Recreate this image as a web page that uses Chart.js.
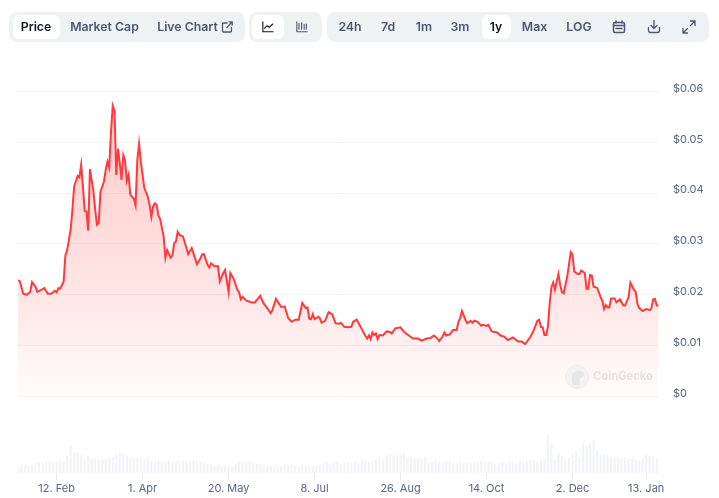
<!DOCTYPE html>
<html>
<head>
<meta charset="utf-8">
<title>Price chart</title>
<script src="https://cdn.jsdelivr.net/npm/chart.js@4"></script>
<style>
    html, body { margin: 0; padding: 0; background: #fff; }
    #wrap { position: relative; width: 719px; height: 498px; overflow: hidden; font-family: Inter, sans-serif; }
    canvas { position: absolute; left: 0; top: 0; }
    .group { position: absolute; top: 12px; height: 30px; background: #eff2f5; border-radius: 8px; }
    .active { position: absolute; top: 15px; height: 24px; background: #fff; border-radius: 6px; }
    .btn { position: absolute; top: 12px; height: 30px; line-height: 30px; transform: translateX(-50%); font-size: 12.3px; font-weight: 600; color: #4b5870; white-space: nowrap; }
    .btn.on { color: #0d1421; }
    .icon { position: absolute; fill: none; stroke: #4b5870; stroke-width: 1.3; stroke-linecap: round; stroke-linejoin: round; }
    #mark { position: absolute; left: 593px; top: 369px; font-size: 11.2px; font-weight: 700; color: #e2e2e2; }
</style>
</head>
<body>
<div id="wrap">
    <canvas id="priceChart" width="719" height="498"></canvas>

    <div class="group" style="left:9px;width:236px"></div>
    <div class="group" style="left:249px;width:73px"></div>
    <div class="group" style="left:327px;width:382px"></div>
    <div class="active" style="left:13px;width:47px"></div>
    <div class="active" style="left:252px;width:32px"></div>
    <div class="active" style="left:482px;width:29px"></div>

    <span class="btn on" style="left:36px">Price</span>
    <span class="btn" style="left:104.5px">Market Cap</span>
    <span class="btn" style="left:187.5px">Live Chart</span>
    <span class="btn" style="left:350px">24h</span>
    <span class="btn" style="left:388px">7d</span>
    <span class="btn" style="left:424px">1m</span>
    <span class="btn" style="left:460px">3m</span>
    <span class="btn on" style="left:496px">1y</span>
    <span class="btn" style="left:534.5px">Max</span>
    <span class="btn" style="left:579px">LOG</span>

    <svg class="icon" style="left:221px;top:20px" width="13" height="14" viewBox="0 0 13 14">
        <path d="M10.5 7.5v3.5a1 1 0 0 1-1 1H2.5a1 1 0 0 1-1-1V4a1 1 0 0 1 1-1H6M8 1.8h3.2V5M11 2L5.8 7.6"/>
    </svg>
    <svg class="icon" style="left:262px;top:21px;stroke:#0d1421" width="12" height="12" viewBox="0 0 14 14">
        <path d="M1 1v11.5h12M3 8.5l3-3 2.5 2 4-4"/>
    </svg>
    <svg class="icon" style="left:296px;top:21px" width="12" height="12" viewBox="0 0 14 14">
        <path d="M1 1v11.5h12M3.5 3v6.5M6.5 2v7.5M9.5 4v5.5M12 3.5v6"/>
    </svg>
    <svg class="icon" style="left:612px;top:20px;stroke-width:1.5" width="14" height="14" viewBox="0 0 14 14">
        <rect x="1.5" y="2.5" width="11" height="10" rx="1.5"/>
        <path d="M1.5 5.5h11M4 1v2M10 1v2M4 8.5h6" />
    </svg>
    <svg class="icon" style="left:647px;top:19px" width="14" height="15" viewBox="0 0 14 15">
        <path d="M7 1.5v7.5M4 6.5L7 9.5l3-3M1.5 8.5v3a2 2 0 0 0 2 2h7a2 2 0 0 0 2-2v-3"/>
    </svg>
    <svg class="icon" style="left:682px;top:20px" width="14" height="14" viewBox="0 0 14 14">
        <path d="M8.5 1h4.5v4.5M13 1L8.5 5.5M5.5 13H1V8.5M1 13l4.5-4.5"/>
    </svg>

    <svg style="position:absolute;left:565px;top:365px" width="24" height="24" viewBox="0 0 24 24">
        <circle cx="12" cy="12" r="11.5" fill="#f3f3f3" stroke="#ebebeb"/>
        <path d="M8 20c-2-5-2-12 3-14 4-1 8 1 8 4 0 2-3 2-4 3-1 2 0 5 0 7z" fill="#e6e6e6"/>
    </svg>
    <div id="mark">CoinGecko</div>
</div>

<script>
const priceDays = [
    0, 1, 3, 5, 7, 8, 10, 11, 14, 15, 17, 19, 21, 22, 23, 24, 26, 27, 28, 30,
    31, 32, 34, 35, 36, 37, 38, 39, 40, 41, 43, 44, 45, 46, 47, 49, 50, 51, 52, 53,
    54, 55, 56, 57, 58, 59, 60, 61, 62, 63, 64, 66, 67, 68, 69, 70, 72, 74, 75, 76,
    77, 78, 79, 80, 81, 83, 84, 85, 87, 88, 89, 90, 91, 92, 94, 96, 97, 99, 102, 104,
    105, 106, 108, 109, 110, 112, 114, 115, 117, 118, 120, 121, 123, 125, 126, 127, 128, 130, 133, 135,
    138, 140, 142, 144, 145, 147, 150, 152, 154, 156, 158, 160, 162, 164, 165, 166, 167, 168, 169, 171,
    172, 173, 175, 177, 179, 181, 183, 184, 186, 188, 190, 191, 193, 194, 196, 198, 199, 200, 201, 202,
    203, 204, 205, 206, 208, 210, 212, 213, 215, 218, 219, 221, 222, 225, 228, 230, 233, 235, 237, 239,
    240, 242, 243, 244, 246, 248, 250, 251, 252, 253, 255, 256, 258, 259, 260, 262, 264, 265, 267, 268,
    270, 273, 275, 277, 279, 282, 285, 287, 289, 292, 294, 296, 297, 298, 299, 300, 301, 302, 303, 304,
    305, 306, 307, 308, 309, 310, 311, 313, 315, 316, 317, 319, 320, 321, 323, 324, 325, 326, 327, 328,
    330, 332, 333, 334, 335, 336, 337, 338, 340, 341, 343, 345, 346, 348, 349, 351, 352, 353, 354, 356,
    358, 360, 361, 362, 363, 364, 365
];

const priceValues = [
    .0229, .0227, .0202, .0200, .0206, .0225, .0216, .0206, .0211, .0213, .0202, .0202, .0208, .0205, .0213, .0212, .0226, .0277, .0288, .0328,
    .0367, .0413, .0434, .0431, .0456, .0413, .0365, .0364, .0326, .0447, .0403, .0367, .0338, .0341, .0403, .0423, .0446, .0462, .0450, .0521,
    .0572, .0562, .0436, .0487, .0459, .0426, .0475, .0465, .0424, .0436, .0397, .0389, .0376, .0465, .0497, .0462, .0410, .0393, .0377, .0353,
    .0374, .0380, .0377, .0356, .0349, .0315, .0273, .0288, .0273, .0277, .0302, .0305, .0324, .0318, .0315, .0292, .0280, .0292, .0260, .0272,
    .0280, .0280, .0259, .0254, .0262, .0256, .0256, .0226, .0243, .0249, .0206, .0243, .0231, .0210, .0205, .0191, .0196, .0189, .0185, .0185,
    .0198, .0183, .0174, .0164, .0170, .0192, .0176, .0177, .0154, .0147, .0151, .0151, .0184, .0174, .0175, .0153, .0152, .0162, .0152, .0157,
    .0154, .0145, .0149, .0166, .0162, .0144, .0143, .0145, .0137, .0136, .0137, .0147, .0151, .0145, .0132, .0119, .0114, .0120, .0113, .0126,
    .0121, .0124, .0113, .0121, .0120, .0128, .0127, .0124, .0134, .0136, .0131, .0124, .0122, .0114, .0114, .0110, .0114, .0115, .0120, .0114,
    .0109, .0118, .0126, .0120, .0122, .0131, .0131, .0147, .0154, .0168, .0151, .0144, .0149, .0145, .0149, .0147, .0139, .0141, .0139, .0141,
    .0128, .0126, .0120, .0118, .0111, .0116, .0108, .0108, .0103, .0117, .0131, .0149, .0151, .0137, .0136, .0121, .0121, .0137, .0183, .0215,
    .0224, .0210, .0226, .0241, .0219, .0205, .0203, .0236, .0284, .0279, .0246, .0241, .0241, .0248, .0243, .0212, .0212, .0239, .0238, .0216,
    .0214, .0196, .0188, .0172, .0180, .0175, .0175, .0193, .0193, .0185, .0191, .0179, .0179, .0196, .0224, .0210, .0206, .0183, .0174, .0168,
    .0172, .0170, .0174, .0191, .0192, .0179, .0179
];

// one bar every two days, volume in $M
const volumeValues = [
    7, 8, 7, 7, 8, 9, 10, 11, 12, 11, 10, 11, 12, 11, 17, 27, 20, 20, 18, 14,
    16, 13, 14, 13, 13, 14, 15, 16, 19, 20, 19, 17, 16, 16, 15, 15, 14, 16, 12, 11,
    12, 11, 11, 12, 11, 11, 12, 12, 12, 11, 13, 12, 11, 10, 9, 8, 7, 8, 7, 8,
    7, 7, 9, 11, 12, 11, 12, 10, 9, 8, 8, 7, 7, 8, 8, 7, 8, 8, 8, 7,
    7, 8, 7, 7, 6, 7, 8, 9, 10, 8, 10, 11, 9, 10, 11, 11, 11, 10, 12, 12,
    11, 11, 13, 14, 13, 17, 18, 18, 17, 19, 20, 16, 15, 14, 15, 15, 16, 10, 11, 12,
    11, 10, 12, 12, 11, 10, 12, 11, 10, 9, 10, 12, 12, 11, 11, 10, 9, 8, 10, 10,
    11, 11, 10, 12, 11, 12, 13, 12, 11, 12, 14, 38, 30, 13, 20, 17, 14, 15, 19, 22,
    16, 30, 27, 29, 33, 22, 19, 19, 18, 16, 16, 15, 14, 16, 15, 14, 13, 12, 14, 19,
    17, 16, 15
];

const yTickValues = [0, 0.01, 0.02, 0.03, 0.04, 0.05, 0.06];
const yTickLabels = ['$0', '$0.01', '$0.02', '$0.03', '$0.04', '$0.05', '$0.06'];
const xTickDays = [22, 71, 120, 169, 218, 267, 316, 358];
const xTickLabels = ['12. Feb', '1. Apr', '20. May', '8. Jul', '26. Aug', '14. Oct', '2. Dec', '13. Jan'];

const toPoints = (xs, ys) => ys.map((y, i) => ({ x: xs[i], y }));
const volumeDays = volumeValues.map((_, i) => i * 2);

function areaGradient(context) {
    const { ctx, chartArea, scales } = context.chart;
    // scales have no pixels yet on the first pass
    if (!chartArea) return 'rgba(255,58,51,0.1)';
    const g = ctx.createLinearGradient(0, scales.y.getPixelForValue(0.06), 0, scales.y.getPixelForValue(0));
    g.addColorStop(0, 'rgba(255,58,51,0.27)');
    g.addColorStop(0.5, 'rgba(255,58,51,0.17)');
    g.addColorStop(0.75, 'rgba(255,58,51,0.1)');
    g.addColorStop(1, 'rgba(255,58,51,0.01)');
    return g;
}

// price labels sit a little above their grid line
const priceLabels = {
    id: 'priceLabels',
    afterDraw(chart) {
        const { ctx, scales } = chart;
        ctx.save();
        ctx.font = '11px Inter, sans-serif';
        ctx.fillStyle = '#58667e';
        ctx.textBaseline = 'middle';
        yTickValues.forEach((v, i) => {
            ctx.fillText(yTickLabels[i], 673, scales.y.getPixelForValue(v) - 3);
        });
        ctx.restore();
    }
};

new Chart(document.getElementById('priceChart').getContext('2d'), {
    data: {
        datasets: [
            {
                type: 'line',
                data: toPoints(priceDays, priceValues),
                yAxisID: 'y',
                borderColor: '#ff3a3f',
                borderWidth: 2,
                pointRadius: 0,
                tension: 0,
                fill: { target: { value: 0 } },
                backgroundColor: areaGradient,
                order: 1
            },
            {
                type: 'bar',
                data: toPoints(volumeDays, volumeValues),
                yAxisID: 'yVolume',
                backgroundColor: '#f1f3f6',
                barThickness: 1.5,
                order: 2
            }
        ]
    },
    options: {
        responsive: false,
        animation: false,
        devicePixelRatio: 1,
        layout: { padding: { left: 18, right: 60, top: 91.5, bottom: 0 } },
        plugins: { legend: { display: false }, tooltip: { enabled: false } },
        scales: {
            x: {
                type: 'linear',
                offset: false,
                min: 0,
                max: 365.3,
                afterBuildTicks: (axis) => { axis.ticks = xTickDays.map(value => ({ value })); },
                afterFit: (axis) => { axis.height = 25; },
                grid: { offset: false, drawOnChartArea: false, drawTicks: true, tickLength: 7, tickColor: '#e9ecf0' },
                border: { display: false },
                ticks: {
                    autoSkip: false,
                    maxRotation: 0,
                    padding: 2,
                    color: '#58667e',
                    font: { family: 'Inter, sans-serif', size: 11 },
                    callback: (value) => xTickLabels[xTickDays.indexOf(value)]
                }
            },
            y: {
                position: 'right',
                min: -0.01505,
                max: 0.06,
                afterBuildTicks: (axis) => { axis.ticks = yTickValues.map(value => ({ value })); },
                afterFit: (axis) => { axis.width = 0; },
                grid: { color: '#f2f3f5', drawTicks: false },
                border: { display: false },
                ticks: { display: false }
            },
            yVolume: {
                display: false,
                min: 0,
                max: 381
            }
        }
    },
    plugins: [priceLabels]
});
</script>
</body>
</html>
